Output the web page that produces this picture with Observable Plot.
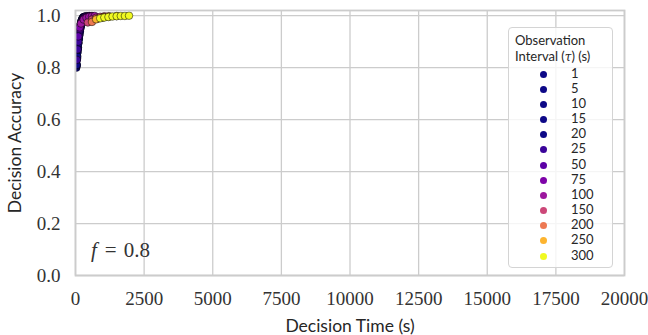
<!DOCTYPE html>
<html><head><meta charset="utf-8">
<script src="https://cdn.jsdelivr.net/npm/d3@7"></script>
<script src="https://cdn.jsdelivr.net/npm/@observablehq/plot@0.6"></script>
<style>
body{margin:0;background:#fff;}
#wrap{position:relative;width:648px;height:335px;overflow:hidden;}
#wrap svg g[aria-label="x-axis tick label"], #wrap svg g[aria-label="y-axis tick label"]{font-family:"Liberation Serif",serif;font-size:19px;fill:#333;}
#wrap svg g[aria-label="x-axis label"], #wrap svg g[aria-label="y-axis label"]{font-family:Lato,sans-serif;font-size:17.5px;fill:#262626;}
#legend{position:absolute;left:508px;top:27px;width:105px;height:241px;box-sizing:border-box;border:1px solid #d4d4d4;border-radius:4px;background:rgba(255,255,255,0.8);font-family:Lato,sans-serif;font-size:13px;color:#262626;}
#legend .title{position:absolute;left:6px;line-height:16px;white-space:nowrap;}
#legend .row{position:absolute;left:0;height:15px;width:100%;}
#legend .dot{position:absolute;left:31px;top:4px;width:7px;height:7px;border-radius:50%;}
#legend .lab{position:absolute;left:62px;top:-1px;line-height:15px;}
#note{position:absolute;left:91px;top:238px;font-family:"Liberation Serif",serif;font-size:21px;color:#333;white-space:nowrap;}
</style></head>
<body><div id="wrap"></div>
<script>
const taus = [1, 5, 10, 15, 20, 25, 50, 75, 100, 150, 200, 250, 300];
const xTicks = [0, 2500, 5000, 7500, 10000, 12500, 15000, 17500, 20000];
const yTicks = [0, 0.2, 0.4, 0.6, 0.8, 1.0];

const time_tau1 = [30, 45, 60, 75, 90, 105, 120, 140, 160, 185, 210, 240, 270];
const acc_tau1 = [0.80, 0.83, 0.855, 0.875, 0.895, 0.91, 0.925, 0.94, 0.955, 0.968, 0.978, 0.986, 0.992];
const time_tau5 = [35, 50, 65, 80, 95, 110, 130, 150, 170, 195, 220, 250, 285];
const acc_tau5 = [0.805, 0.835, 0.86, 0.88, 0.898, 0.913, 0.93, 0.945, 0.958, 0.97, 0.98, 0.988, 0.994];
const time_tau10 = [40, 60, 80, 100, 120, 140, 160, 180, 200, 230, 260, 300];
const acc_tau10 = [0.81, 0.845, 0.872, 0.895, 0.913, 0.93, 0.945, 0.958, 0.968, 0.98, 0.988, 0.995];
const time_tau15 = [45, 60, 75, 90, 105, 120, 135, 150, 165, 180, 210, 240, 270, 300, 330];
const acc_tau15 = [0.812, 0.838, 0.86, 0.878, 0.895, 0.91, 0.923, 0.935, 0.946, 0.955, 0.968, 0.979, 0.987, 0.993, 0.996];
const time_tau20 = [40, 60, 80, 100, 120, 140, 160, 180, 200, 240, 280, 320, 360];
const acc_tau20 = [0.81, 0.843, 0.87, 0.892, 0.91, 0.926, 0.94, 0.952, 0.962, 0.977, 0.987, 0.993, 0.997];
const time_tau25 = [50, 75, 100, 125, 150, 175, 200, 250, 300, 350, 400];
const acc_tau25 = [0.83, 0.87, 0.9, 0.925, 0.945, 0.96, 0.97, 0.983, 0.991, 0.996, 0.998];
const time_tau50 = [100, 150, 200, 250, 300, 350, 400, 450, 500];
const acc_tau50 = [0.92, 0.95, 0.968, 0.979, 0.987, 0.992, 0.995, 0.997, 0.999];
const time_tau75 = [150, 225, 300, 375, 450, 525, 600];
const acc_tau75 = [0.955, 0.975, 0.986, 0.992, 0.996, 0.998, 0.999];
const time_tau100 = [200, 300, 400, 500, 600, 700];
const acc_tau100 = [0.97, 0.985, 0.992, 0.996, 0.998, 0.999];
const time_tau150 = [450, 600, 750, 900, 1050];
const acc_tau150 = [0.974, 0.985, 0.992, 0.996, 0.998];
const time_tau200 = [600, 800, 1000, 1200];
const acc_tau200 = [0.976, 0.988, 0.994, 0.998];
const time_tau250 = [750, 1000, 1250, 1500];
const acc_tau250 = [0.986, 0.993, 0.997, 0.999];
const time_tau300 = [900, 1050, 1200, 1350, 1500, 1650, 1800, 1950];
const acc_tau300 = [0.99, 0.993, 0.995, 0.997, 0.998, 0.999, 0.999, 1.0];

const series = [
  [time_tau1, acc_tau1], [time_tau5, acc_tau5], [time_tau10, acc_tau10],
  [time_tau15, acc_tau15], [time_tau20, acc_tau20], [time_tau25, acc_tau25],
  [time_tau50, acc_tau50], [time_tau75, acc_tau75], [time_tau100, acc_tau100],
  [time_tau150, acc_tau150], [time_tau200, acc_tau200], [time_tau250, acc_tau250],
  [time_tau300, acc_tau300]
];
const rows = [];
series.forEach(([ts, as], i) => ts.forEach((t, j) => rows.push({tau: taus[i], t, acc: as[j]})));

// plasma colour per tau (the shortest intervals share the darkest colour)
const tauColors = taus.map(tau => d3.interpolatePlasma(tau <= 20 ? 0 : tau / 300));

const chart = Plot.plot({
  width: 648, height: 335,
  marginLeft: 75, marginRight: 24, marginTop: 10, marginBottom: 60,
  style: {background: "#fff", fontFamily: "Lato, sans-serif", overflow: "visible"},
  x: {domain: [0, 20000]},
  y: {domain: [0, 1.02]},
  color: {type: "ordinal", domain: taus, range: tauColors},
  marks: [
    Plot.gridX(xTicks, {stroke: "#cccccc", strokeOpacity: 1, strokeWidth: 1.3}),
    Plot.gridY(yTicks, {stroke: "#cccccc", strokeOpacity: 1, strokeWidth: 1.3}),
    Plot.dot(rows, {x: "t", y: "acc", fill: "tau", r: 3.8, stroke: "black", strokeWidth: 0.5, clip: true}),
    Plot.frame({stroke: "#cccccc", strokeWidth: 1.8}),
    Plot.axisX({ticks: xTicks, tickSize: 0, tickPadding: 16, tickFormat: d => String(d),
      label: "Decision Time (s)", labelAnchor: "center", labelArrow: "none", labelOffset: 56}),
    Plot.axisY({ticks: yTicks, tickSize: 0, tickPadding: 15, tickFormat: d => d.toFixed(1),
      label: "Decision Accuracy", labelAnchor: "center", labelArrow: "none", labelOffset: 67})
  ]
});
const wrap = document.getElementById("wrap");
wrap.appendChild(chart);

const color = chart.scale("color");
const lg = document.createElement("div");
lg.id = "legend";
lg.innerHTML = '<div class="title" style="top:4px">Observation</div>' +
  '<div class="title" style="top:20px">Interval (<span style="font-family:\'DejaVu Serif\',serif;font-style:italic;font-size:12px">τ</span>) (s)</div>';
taus.forEach((tau, i) => {
  const r = document.createElement("div");
  r.className = "row";
  r.style.top = (38.5 + i * 15.17) + "px";
  r.innerHTML = `<div class="dot" style="background:${color.apply(tau)}"></div><div class="lab">${tau}</div>`;
  lg.appendChild(r);
});
wrap.appendChild(lg);

const note = document.createElement("div");
note.id = "note";
note.innerHTML = '<span style="font-style:italic">f</span><span style="margin:0 7px 0 8px">=</span>0.8';
wrap.appendChild(note);
</script></body></html>
